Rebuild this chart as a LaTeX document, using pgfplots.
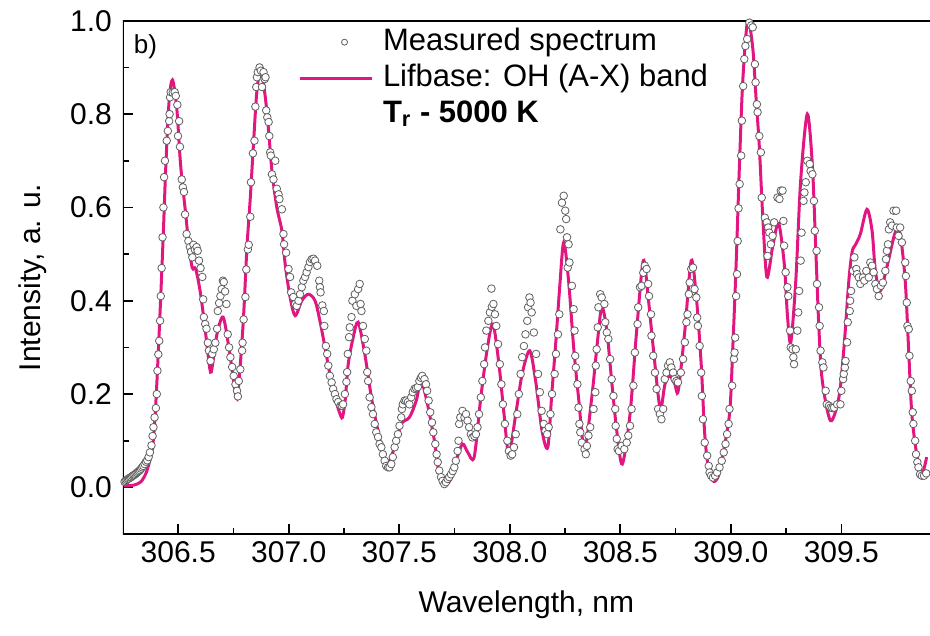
\documentclass[border=0pt]{standalone}
\usepackage{fontspec}
\setmainfont{Liberation Sans}
\usepackage{pgfplots}
\pgfplotsset{compat=1.18}
\usepackage{pgfplotstable}
\definecolor{fitmag}{RGB}{226,22,128}
\definecolor{circgray}{RGB}{95,95,95}

\pgfplotstableread{
x y
306.255 0.003
306.300 0.005
306.331 0.012
306.354 0.030
306.370 0.055
306.384 0.086
306.395 0.150
306.406 0.250
306.421 0.410
306.433 0.550
306.444 0.690
306.459 0.830
306.474 0.873
306.493 0.815
306.511 0.690
306.534 0.585
306.549 0.515
306.564 0.470
306.579 0.468
306.601 0.415
306.624 0.330
306.646 0.247
306.660 0.280
306.676 0.330
306.703 0.365
306.729 0.300
306.751 0.228
306.766 0.190
306.781 0.264
306.796 0.370
306.811 0.515
306.826 0.620
306.841 0.740
306.856 0.850
306.874 0.896
306.894 0.836
306.909 0.764
306.924 0.678
306.946 0.600
306.969 0.550
306.984 0.478
307.006 0.408
307.029 0.368
307.059 0.400
307.089 0.414
307.119 0.400
307.141 0.357
307.164 0.300
307.186 0.243
307.209 0.193
307.230 0.160
307.243 0.150
307.256 0.190
307.269 0.264
307.291 0.320
307.314 0.354
307.344 0.286
307.374 0.193
307.404 0.121
307.441 0.050
307.479 0.086
307.509 0.136
307.546 0.150
307.577 0.186
307.599 0.228
307.628 0.178
307.659 0.100
307.681 0.028
307.704 0.007
307.730 0.015
307.757 0.057
307.786 0.093
307.810 0.075
307.839 0.065
307.869 0.193
307.899 0.300
307.924 0.350
307.951 0.264
307.974 0.157
307.996 0.071
308.027 0.157
308.056 0.243
308.090 0.293
308.117 0.228
308.146 0.121
308.172 0.086
308.190 0.200
308.208 0.310
308.226 0.430
308.244 0.525
308.266 0.443
308.289 0.300
308.311 0.193
308.338 0.080
308.371 0.193
308.394 0.300
308.416 0.386
308.439 0.336
308.461 0.228
308.484 0.121
308.509 0.050
308.544 0.157
308.574 0.336
308.604 0.486
308.626 0.408
308.649 0.300
308.680 0.170
308.702 0.221
308.724 0.239
308.747 0.221
308.762 0.207
308.792 0.336
308.821 0.486
308.844 0.408
308.866 0.264
308.881 0.121
308.896 0.050
308.919 0.014
308.940 0.020
308.956 0.050
308.994 0.157
309.009 0.300
309.024 0.478
309.039 0.690
309.054 0.870
309.076 1.000
309.099 0.943
309.114 0.836
309.129 0.730
309.144 0.585
309.163 0.451
309.189 0.515
309.216 0.566
309.242 0.478
309.256 0.370
309.271 0.310
309.294 0.443
309.316 0.657
309.346 0.800
309.369 0.690
309.384 0.515
309.399 0.336
309.414 0.228
309.451 0.143
309.489 0.193
309.512 0.300
309.534 0.443
309.549 0.505
309.564 0.520
309.586 0.543
309.616 0.596
309.639 0.550
309.654 0.464
309.676 0.421
309.706 0.472
309.744 0.547
309.766 0.543
309.789 0.443
309.804 0.300
309.819 0.157
309.841 0.071
309.864 0.028
309.886 0.065
}\fitdata

\pgfplotstableread{
x y
306.257 0.012
306.262 0.014
306.267 0.016
306.272 0.018
306.277 0.019
306.282 0.021
306.287 0.022
306.292 0.024
306.297 0.026
306.302 0.027
306.307 0.029
306.312 0.031
306.317 0.033
306.322 0.035
306.327 0.037
306.332 0.040
306.337 0.043
306.342 0.046
306.348 0.050
306.354 0.055
306.360 0.058
306.366 0.065
306.372 0.075
306.379 0.090
306.384 0.110
306.388 0.129
306.393 0.150
306.399 0.170
306.403 0.200
306.406 0.250
306.410 0.285
306.414 0.314
306.418 0.357
306.421 0.410
306.425 0.470
306.429 0.536
306.433 0.600
306.436 0.665
306.440 0.700
306.448 0.743
306.453 0.764
306.459 0.785
306.461 0.800
306.463 0.836
306.466 0.847
306.475 0.846
306.484 0.847
306.489 0.839
306.496 0.820
306.499 0.753
306.504 0.785
306.508 0.730
306.516 0.660
306.521 0.643
306.526 0.633
306.531 0.585
306.538 0.543
306.546 0.528
306.553 0.515
306.558 0.505
306.564 0.493
306.569 0.520
306.575 0.510
306.583 0.515
306.588 0.507
306.594 0.486
306.601 0.470
306.609 0.451
306.613 0.403
306.616 0.365
306.622 0.350
306.628 0.340
306.634 0.310
306.639 0.293
306.646 0.271
306.654 0.286
306.661 0.296
306.668 0.310
306.676 0.340
306.679 0.378
306.685 0.395
306.691 0.410
306.697 0.425
306.702 0.443
306.706 0.440
306.712 0.420
306.718 0.393
306.724 0.328
306.730 0.300
306.736 0.279
306.744 0.258
306.751 0.239
306.759 0.221
306.766 0.207
306.770 0.195
306.774 0.228
306.781 0.253
306.789 0.293
306.791 0.310
306.796 0.360
306.804 0.408
306.808 0.467
306.815 0.510
306.819 0.520
306.826 0.580
306.829 0.654
306.838 0.716
306.845 0.743
306.849 0.816
306.853 0.858
306.856 0.879
306.860 0.890
306.868 0.900
306.874 0.893
306.879 0.858
306.886 0.890
306.891 0.875
306.895 0.879
306.898 0.808
306.903 0.793
306.909 0.783
306.912 0.753
306.916 0.718
306.919 0.711
306.924 0.671
306.931 0.660
306.939 0.700
306.946 0.640
306.954 0.628
306.958 0.618
306.969 0.596
306.976 0.543
306.979 0.521
306.988 0.503
306.999 0.468
307.006 0.451
307.011 0.418
307.021 0.408
307.029 0.393
307.036 0.389
307.044 0.400
307.051 0.414
307.059 0.429
307.066 0.443
307.074 0.451
307.081 0.461
307.089 0.472
307.096 0.483
307.104 0.489
307.112 0.490
307.119 0.486
307.129 0.475
307.138 0.443
307.141 0.429
307.144 0.418
307.152 0.390
307.159 0.378
307.161 0.346
307.168 0.303
307.174 0.286
307.179 0.261
307.186 0.239
307.194 0.225
307.201 0.211
307.209 0.200
307.216 0.189
307.224 0.183
307.234 0.175
307.240 0.175
307.246 0.178
307.254 0.200
307.261 0.226
307.264 0.247
307.267 0.286
307.273 0.322
307.276 0.343
307.284 0.365
307.288 0.400
307.299 0.414
307.306 0.389
307.314 0.425
307.321 0.436
307.325 0.393
307.329 0.378
307.336 0.346
307.344 0.318
307.351 0.293
307.355 0.247
307.359 0.228
307.366 0.193
307.374 0.172
307.381 0.157
307.389 0.136
307.396 0.118
307.404 0.108
307.411 0.093
307.419 0.086
307.426 0.071
307.434 0.057
307.441 0.046
307.449 0.043
307.456 0.043
307.464 0.050
307.471 0.065
307.479 0.086
307.486 0.100
307.494 0.114
307.501 0.132
307.509 0.150
307.512 0.168
307.516 0.178
307.524 0.186
307.531 0.186
307.539 0.183
307.546 0.178
307.554 0.193
307.561 0.204
307.569 0.211
307.576 0.213
307.584 0.215
307.591 0.228
307.598 0.235
307.604 0.239
307.614 0.232
307.621 0.221
307.626 0.207
307.633 0.186
307.640 0.161
307.648 0.139
307.654 0.118
307.663 0.093
307.669 0.071
307.674 0.054
307.681 0.036
307.689 0.022
307.696 0.014
307.704 0.007
307.711 0.011
307.719 0.018
307.726 0.022
307.734 0.028
307.742 0.035
307.749 0.043
307.756 0.057
307.764 0.078
307.768 0.100
307.771 0.136
307.776 0.150
307.786 0.164
307.795 0.150
307.802 0.157
307.809 0.143
307.816 0.129
307.824 0.114
307.831 0.107
307.840 0.110
307.847 0.114
307.854 0.129
307.861 0.157
307.869 0.193
307.876 0.228
307.884 0.264
307.888 0.300
307.894 0.336
307.903 0.357
307.910 0.375
307.917 0.426
307.919 0.387
307.926 0.393
307.933 0.371
307.939 0.346
307.947 0.307
307.955 0.264
307.962 0.221
307.969 0.178
307.978 0.136
307.989 0.100
307.996 0.078
308.004 0.068
308.011 0.071
308.019 0.086
308.027 0.114
308.034 0.157
308.041 0.200
308.049 0.243
308.056 0.279
308.064 0.303
308.071 0.328
308.079 0.357
308.083 0.386
308.089 0.407
308.094 0.396
308.099 0.375
308.109 0.332
308.119 0.286
308.128 0.243
308.136 0.204
308.144 0.164
308.154 0.136
308.161 0.121
308.169 0.114
308.176 0.129
308.184 0.157
308.191 0.200
308.203 0.243
308.209 0.286
308.218 0.328
308.224 0.371
308.229 0.553
308.236 0.610
308.244 0.625
308.251 0.593
308.255 0.575
308.259 0.536
308.262 0.471
308.266 0.521
308.270 0.482
308.281 0.432
308.289 0.382
308.293 0.336
308.296 0.282
308.299 0.257
308.306 0.221
308.311 0.171
308.315 0.136
308.319 0.118
308.326 0.096
308.338 0.082
308.344 0.071
308.349 0.089
308.356 0.111
308.364 0.129
308.379 0.168
308.387 0.204
308.389 0.261
308.393 0.296
308.398 0.343
308.401 0.386
308.409 0.414
308.416 0.407
308.428 0.393
308.432 0.354
308.439 0.332
308.446 0.318
308.454 0.275
308.461 0.232
308.469 0.196
308.477 0.168
308.479 0.132
308.484 0.104
308.488 0.082
308.494 0.078
308.506 0.089
308.518 0.082
308.529 0.096
308.536 0.111
308.544 0.132
308.551 0.168
308.559 0.218
308.566 0.289
308.578 0.350
308.581 0.386
308.589 0.429
308.596 0.432
308.604 0.460
308.611 0.475
308.619 0.468
308.626 0.436
308.630 0.410
308.639 0.371
308.641 0.325
308.649 0.282
308.657 0.246
308.664 0.211
308.671 0.168
308.679 0.157
308.686 0.146
308.694 0.168
308.701 0.232
308.709 0.246
308.716 0.261
308.724 0.268
308.731 0.257
308.739 0.246
308.746 0.232
308.754 0.228
308.761 0.225
308.774 0.246
308.784 0.275
308.792 0.311
308.799 0.354
308.804 0.371
308.810 0.414
308.814 0.439
308.821 0.468
308.829 0.471
308.836 0.425
308.844 0.407
308.848 0.364
308.851 0.346
308.859 0.303
308.866 0.246
308.869 0.196
308.874 0.146
308.882 0.096
308.893 0.068
308.900 0.046
308.904 0.032
308.911 0.025
308.919 0.021
308.929 0.025
308.938 0.032
308.949 0.043
308.959 0.057
308.968 0.075
308.976 0.093
308.983 0.114
308.990 0.136
308.994 0.168
309.006 0.218
309.014 0.275
309.017 0.289
309.020 0.321
309.024 0.410
309.028 0.457
309.031 0.528
309.035 0.598
309.040 0.650
309.047 0.711
309.050 0.786
309.056 0.860
309.061 0.918
309.066 0.946
309.074 0.961
309.084 0.996
309.092 0.990
309.099 0.986
309.109 0.907
309.112 0.868
309.118 0.821
309.121 0.804
309.129 0.753
309.136 0.718
309.140 0.621
309.154 0.578
309.163 0.568
309.166 0.496
309.169 0.557
309.174 0.546
309.181 0.521
309.189 0.539
309.196 0.568
309.211 0.621
309.220 0.618
309.226 0.636
309.234 0.636
309.238 0.571
309.241 0.518
309.248 0.461
309.256 0.429
309.260 0.410
309.268 0.336
309.271 0.300
309.279 0.296
309.283 0.279
309.286 0.264
309.294 0.296
309.301 0.336
309.305 0.375
309.309 0.421
309.316 0.486
309.320 0.546
309.329 0.614
309.333 0.632
309.339 0.654
309.346 0.700
309.357 0.693
309.361 0.678
309.369 0.671
309.376 0.614
309.380 0.550
309.388 0.507
309.390 0.436
309.399 0.386
309.402 0.346
309.406 0.293
309.414 0.268
309.419 0.257
309.429 0.207
309.434 0.178
309.444 0.175
309.451 0.171
309.459 0.170
309.467 0.171
309.481 0.178
309.496 0.178
309.500 0.207
309.508 0.232
309.511 0.243
309.516 0.257
309.519 0.271
309.526 0.311
309.529 0.354
309.538 0.378
309.540 0.400
309.544 0.421
309.553 0.464
309.559 0.493
309.568 0.468
309.571 0.457
309.579 0.450
309.586 0.436
309.598 0.450
309.604 0.443
309.613 0.464
309.624 0.450
309.631 0.482
309.639 0.475
309.646 0.461
309.654 0.436
309.661 0.425
309.669 0.410
309.679 0.432
309.688 0.439
309.699 0.464
309.702 0.489
309.706 0.507
309.711 0.521
309.715 0.553
309.721 0.568
309.729 0.561
309.736 0.593
309.748 0.593
309.751 0.557
309.759 0.539
309.766 0.557
309.774 0.525
309.789 0.482
309.792 0.453
309.796 0.396
309.799 0.346
309.805 0.339
309.808 0.282
309.814 0.228
309.819 0.207
309.823 0.161
309.826 0.136
309.834 0.100
309.838 0.071
309.844 0.054
309.849 0.043
309.856 0.028
309.864 0.025
309.874 0.025
309.884 0.030
}\measdata

\begin{document}
\begin{tikzpicture}
\begin{axis}[
  scale only axis,
  width=403.5pt, height=256.7pt,
  xmin=306.25, xmax=309.9,
  ymin=-0.1, ymax=1.0,
  axis line style={draw=none},
  tick align=inside,
  xtick pos=bottom, ytick pos=left,
  xtick={306.5,307,307.5,308,308.5,309,309.5},
  ytick={0,0.2,0.4,0.6,0.8,1.0},
  minor x tick num=1, minor y tick num=1,
  major tick length=5pt, minor tick length=3pt,
  every tick/.style={black, line width=0.8pt},
  /pgf/number format/assume math mode=true,
  /pgf/number format/fixed,
  /pgf/number format/fixed zerofill,
  /pgf/number format/precision=1,
  ticklabel style={font=\fontsize{15}{18}\selectfont},
  yticklabel style={xshift=-2pt},
  xlabel={Wavelength, nm},
  ylabel={Intensity, a. u.},
  every axis x label/.style={at={(axis description cs:0.5,-0.138)}, anchor=center, font=\fontsize{15}{18}\selectfont},
  every axis y label/.style={at={(axis description cs:-0.1115,0.5)}, anchor=center, rotate=90, font=\fontsize{15}{18}\selectfont},
  legend style={at={(axis description cs:0.2165,1)}, anchor=north west, yshift=-2pt,
    draw=none, fill=none, inner sep=0pt, row sep=1pt, column sep=4pt,
    font=\fontsize{15.5}{18}\selectfont,
    nodes={inner sep=1pt, text height=11.5pt, text depth=3.5pt}},
  legend cell align=left,
]
\addlegendimage{legend image code/.code={\path[draw=none] (0pt,0pt) -- (36pt,0pt); \path[draw=circgray, fill=white, line width=0.4pt] (22.5pt,0pt) circle (1.5pt);}}
\addlegendentry{Measured spectrum}
\addlegendimage{legend image code/.code={\draw[fitmag, line width=1.5pt] (0pt,0pt) -- (36pt,0pt);}}
\addlegendentry{Lifbase: OH (A-X) band}
\addlegendimage{empty legend}
\addlegendentry{\textbf{T\textsubscript{r} - 5000 K}}

\addplot[fitmag, line width=1.5pt, smooth, forget plot] table[x=x, y=y] {\fitdata};
\addplot[only marks, mark=*, mark size=1.9pt, mark options={draw=circgray, fill=white, line width=0.4pt}, forget plot] table[x=x, y=y] {\measdata};

\node[anchor=center, font=\fontsize{13}{15}\selectfont] at (axis description cs:0.028,0.949) {b)};
\draw[black, line width=1pt] (rel axis cs:1,1) -- (rel axis cs:0,1) -- (rel axis cs:0,0) -- (rel axis cs:1,0);
\coordinate (ll) at (rel axis cs:0,0);
\coordinate (ur) at (rel axis cs:1,1);
\end{axis}
\path ([xshift=-61.5pt,yshift=-50.5pt]ll) rectangle ([yshift=10.4pt]ur);
\end{tikzpicture}
\end{document}
